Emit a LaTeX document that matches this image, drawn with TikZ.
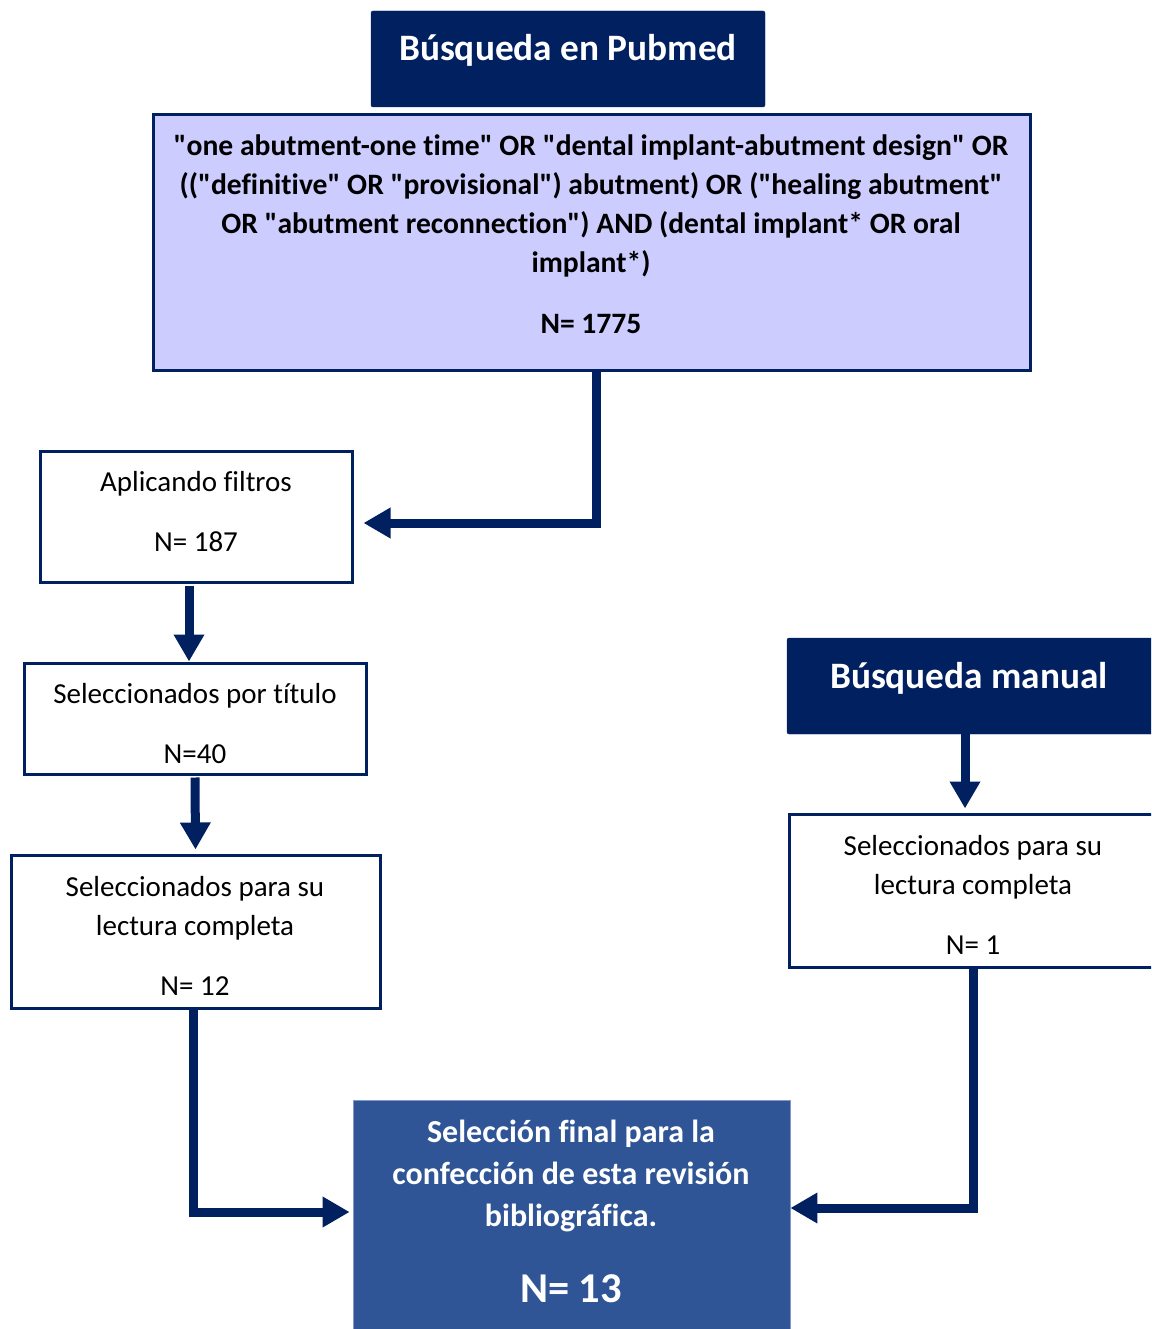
\documentclass[tikz,border=0pt]{standalone}
\usepackage{fontspec}
\setmainfont{Carlito}[Ligatures={TeXOff,NoCommon}]
\usetikzlibrary{arrows.meta,calc}
\definecolor{navy}{HTML}{002060}
\definecolor{lilac}{HTML}{CCCCFF}
\definecolor{midblue}{HTML}{2F5597}
\begin{document}
\begin{tikzpicture}[x=1pt,y=-1pt,
  darkbox/.style={draw=navy,fill=navy,rounded corners=2pt,inner sep=0pt},
  whitebox/.style={draw=navy,line width=3pt,fill=white,inner sep=0pt},
  querybox/.style={draw=navy,line width=3pt,fill=lilac,inner sep=0pt},
  finalbox/.style={draw=midblue!60,line width=0.8pt,fill=midblue,inner sep=0pt},
  bodytxt/.style={align=center,inner sep=0pt,font=\fontsize{29}{39}\selectfont},
  boldtxt/.style={align=center,inner sep=0pt,font=\fontsize{29.6}{39}\selectfont\bfseries},
  titletxt/.style={align=center,inner sep=0pt,text=white,font=\fontsize{37.3}{44}\selectfont\bfseries},
  arr/.style={draw=navy,line width=9pt,-{Triangle[length=27pt,width=29pt]}}
]
\useasboundingbox (0,0) rectangle (1151,1329);
\clip (0,0) rectangle (1151,1329);

% boxes
\node[darkbox,minimum width=394pt,minimum height=96pt] (p) at (568,59) {};
\node[querybox,minimum width=877pt,minimum height=255pt] (q) at (591.5,242.5) {};
\node[whitebox,minimum width=312pt,minimum height=131pt] (a) at (196,516.5) {};
\node[whitebox,minimum width=342pt,minimum height=111pt] (t) at (195,718.5) {};
\node[whitebox,minimum width=369pt,minimum height=153pt] (l) at (195.5,931.5) {};
\node[darkbox,minimum width=380pt,minimum height=96pt] (m) at (977,686) {};
\node[whitebox,minimum width=380pt,minimum height=153pt] (r) at (979,890.5) {};
\node[finalbox,minimum width=437pt,minimum height=240pt] (f) at (571.5,1220) {};

% texts
\node[titletxt] (pt) at (568,50) {Búsqueda en Pubmed};
\node[boldtxt] (qt) at (591,234.5) {"one abutment-one time" OR "dental implant-abutment design" OR\\
(("definitive" OR "provisional") abutment) OR ("healing abutment"\\
OR "abutment reconnection") AND (dental implant* OR oral\\
implant*)\\[22pt]
N= 1775};
\node[bodytxt] (at) at (196,512) {Aplicando filtros\\[21pt]N= 187};
\node[bodytxt] (tt) at (195,724) {Seleccionados por título\\[21pt]N=40};
\node[bodytxt] (lt) at (195,935.5) {Seleccionados para su\\lectura completa\\[21pt]N= 12};
\node[titletxt] (mt) at (969,678) {Búsqueda manual};
\node[bodytxt] (rt) at (973,894.5) {Seleccionados para su\\lectura completa\\[21pt]N= 1};
\node[align=center,inner sep=0pt,text=white,font=\fontsize{32}{42}\selectfont\bfseries] (ft) at (571,1176) {Selección final para la\\confección de esta revisión\\bibliográfica.};
\node[inner sep=0pt,text=white,font=\fontsize{42.5}{48}\selectfont\bfseries] (fn) at (571,1289) {N= 13};

% connectors
\draw[arr] ($(q.south)+(4.5,0)$) |- ($(a.east)+(10,6.5)$);
\draw[arr] ($(a.south)+(-7,2)$) -- ($(t.north)+(-6,0)$);
\draw[arr] ($(t.south)+(0,2)$) -- ($(l.north)+(0,-4)$);
\draw[arr] ($(l.south)+(-2.5,0)$) |- ($(f.west)+(-3,-8)$);
\draw[arr] ($(m.south)+(-12,0)$) -- ($(r.north)+(-14,-4)$);
\draw[arr] ($(r.south)+(-6,0)$) |- ($(f.east)+(0,-12)$);
\end{tikzpicture}
\end{document}
